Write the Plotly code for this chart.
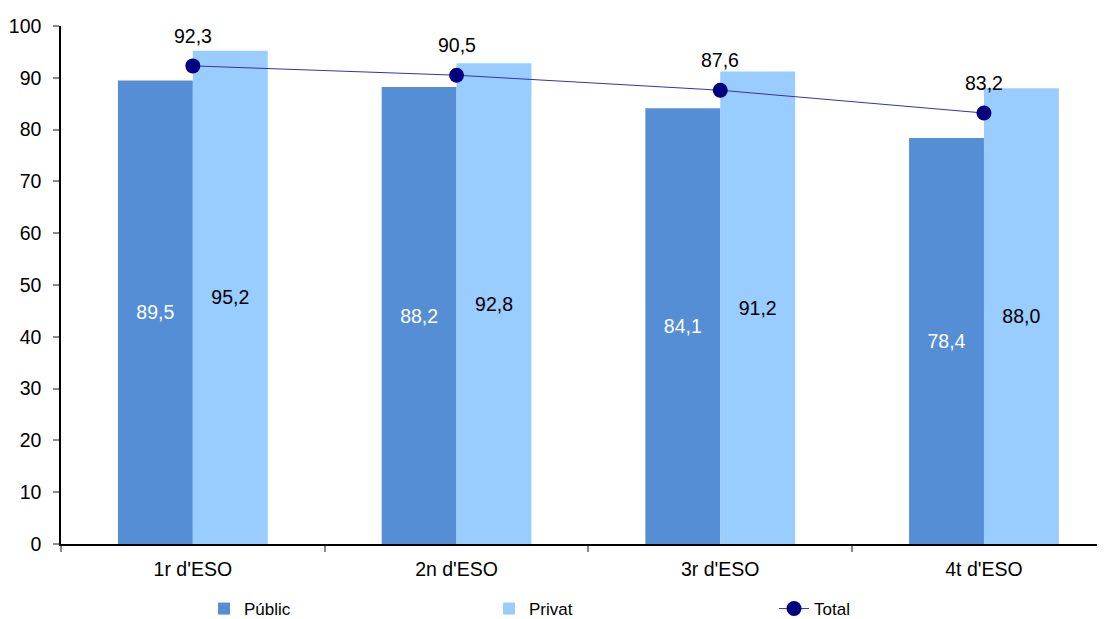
import plotly.graph_objects as go

categories = ["1r d'ESO", "2n d'ESO", "3r d'ESO", "4t d'ESO"]
public = [89.5, 88.2, 84.1, 78.4]
privat = [95.2, 92.8, 91.2, 88.0]
total = [92.3, 90.5, 87.6, 83.2]
yticks = [0, 10, 20, 30, 40, 50, 60, 70, 80, 90, 100]

xs = list(range(len(categories)))
bw = 0.284
font = "Liberation Sans, Arial, sans-serif"
fs = 19.5

fig = go.Figure()
fig.add_trace(go.Bar(
    x=xs, y=public, name="Públic", width=bw, offset=-bw,
    marker=dict(color="#558ED5", line=dict(width=0)),
    texttemplate="%{y:.1f}", textposition="inside", insidetextanchor="middle",
    textfont=dict(color="white", size=fs, family=font), textangle=0,
))
fig.add_trace(go.Bar(
    x=xs, y=privat, name="Privat", width=bw, offset=0,
    marker=dict(color="#99CCFF", line=dict(width=0)),
    texttemplate="%{y:.1f}", textposition="inside", insidetextanchor="middle",
    textfont=dict(color="black", size=fs, family=font), textangle=0,
))
fig.add_trace(go.Scatter(
    x=xs, y=total, name="Total", mode="lines+markers",
    line=dict(color="#3333AA", width=1),
    marker=dict(color="#000080", size=15),
))
for x, v in zip(xs, total):
    fig.add_annotation(x=x, y=v, text=f"{v:.1f}".replace(".", ","), showarrow=False,
                       yshift=30, font=dict(size=fs, color="black", family=font))

fig.update_layout(
    width=1097, height=611,
    margin=dict(l=53, r=0, t=18, b=75, autoexpand=False),
    paper_bgcolor="white", plot_bgcolor="white",
    separators=",.",
    barmode="overlay",
    showlegend=True,
    legend=dict(orientation="h", x=0.137, xanchor="left",
                y=-0.1255, yanchor="middle",
                font=dict(size=17, family=font, color="black"),
                entrywidth=240, entrywidthmode="pixels", traceorder="normal"),
    font=dict(family=font, color="black"),
)
fig.update_xaxes(
    range=[-0.5, 3.459], tickmode="array", tickvals=xs, ticktext=categories,
    ticks="", showgrid=False, zeroline=False, automargin=False,
    showline=True, linecolor="black", linewidth=1.5, ticklabelstandoff=7,
    tickfont=dict(size=fs, family=font, color="black"),
    minor=dict(tickmode="array", tickvals=[-0.5, 0.5, 1.5, 2.5], ticks="outside",
               ticklen=6, tickcolor="#888888", tickwidth=1.5, showgrid=False),
)
fig.update_yaxes(
    range=[0, 100], tickmode="array", tickvals=yticks,
    ticks="outside", ticklen=6, tickcolor="#888888", tickwidth=1.5,
    showgrid=False, zeroline=False, automargin=False, ticklabelstandoff=8,
    showline=True, linecolor="black", linewidth=1.5,
    tickfont=dict(size=fs, family=font, color="black"),
)
fig.write_html("out.html")
